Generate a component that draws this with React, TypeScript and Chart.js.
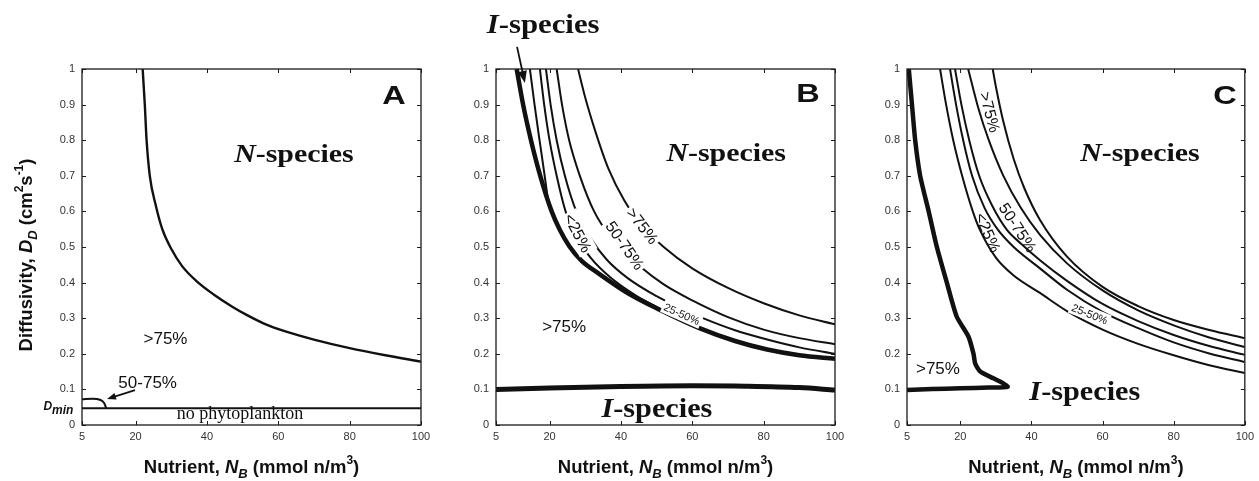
import React, { useEffect, useRef } from "react";
import { Chart, registerables } from "chart.js";

Chart.register(...registerables);

type P = [number, number];

// ---------- axis ticks ----------
const X_TICKS = [5, 20, 40, 60, 80, 100];
const X_TICK_LABELS = ["5", "20", "40", "60", "80", "100"];
const Y_TICKS = [0, 0.1, 0.2, 0.3, 0.4, 0.5, 0.6, 0.7, 0.8, 0.9, 1];
const Y_TICK_LABELS = ["0", "0.1", "0.2", "0.3", "0.4", "0.5", "0.6", "0.7", "0.8", "0.9", "1"];

// ---------- panel A ----------
const A_BOUNDARY: P[] = [[22, 1], [22.3, 0.95], [22.6, 0.9], [23.1, 0.8], [24, 0.7], [25.6, 0.62], [27.5, 0.55], [30, 0.495], [33, 0.447], [37, 0.405], [42, 0.366], [47, 0.333], [51, 0.31], [56, 0.285], [62, 0.263], [70, 0.24], [80, 0.216], [90, 0.196], [100, 0.178]];
const A_DMIN: P[] = [[5, 0.047], [100, 0.047]];
const A_50_75: P[] = [[5, 0.072], [8, 0.074], [10, 0.071], [11.2, 0.062], [11.8, 0.047]];

// ---------- panel B ----------
const B_I_UPPER: P[] = [[10.8, 1], [12.6, 0.9], [14.8, 0.8], [17.4, 0.7], [20.6, 0.6], [22.8, 0.55], [25.5, 0.503], [29, 0.461], [34, 0.424], [42, 0.37], [51, 0.323], [62, 0.272], [72, 0.236], [81, 0.212], [90, 0.196], [100, 0.186]];
const B_I_LOWER: P[] = [[5, 0.1], [20, 0.104], [40, 0.108], [60, 0.11], [75, 0.109], [90, 0.105], [100, 0.098]];
const B_C5: P[] = [[14.5, 1], [15.8, 0.9], [17.2, 0.8], [18.5, 0.71], [19.6, 0.63]];
const B_C4: P[] = [[17.3, 1], [18.5, 0.9], [20, 0.8], [22, 0.7], [24.5, 0.6], [27.5, 0.53], [31.5, 0.47], [37, 0.415], [44, 0.365], [51, 0.326]];
const B_C3: P[] = [[19, 1], [20.3, 0.9], [22, 0.8], [24.3, 0.7], [27.5, 0.6], [31.5, 0.525], [36, 0.465], [42, 0.412], [50, 0.362], [57, 0.327], [63, 0.3], [72, 0.266], [81, 0.24], [90, 0.218], [100, 0.2]];
const B_C2: P[] = [[22, 1], [23.5, 0.9], [25.5, 0.8], [28.5, 0.7], [32.5, 0.6], [37, 0.53], [41, 0.49], [46, 0.44], [52, 0.395], [60, 0.35], [70, 0.303], [80, 0.268], [90, 0.244], [100, 0.227]];
const B_C1: P[] = [[28, 1], [30, 0.92], [33, 0.82], [36.5, 0.72], [41, 0.63], [46, 0.56], [52, 0.5], [60, 0.44], [70, 0.385], [80, 0.342], [90, 0.308], [100, 0.283]];

// ---------- panel C ----------
const C_I_BOUNDARY: P[] = [[5.5, 1], [6.4, 0.9], [7.3, 0.8], [8.7, 0.7], [11.1, 0.6], [13.4, 0.5], [16.2, 0.4], [19, 0.304], [22.3, 0.248], [23.7, 0.2], [24.2, 0.172], [25.6, 0.15], [29.3, 0.131], [32.1, 0.117], [33.3, 0.107], [28, 0.105], [20, 0.103], [12, 0.101], [5, 0.098]];
const C_C1: P[] = [[29.1, 1], [30, 0.95], [32, 0.856], [35, 0.747], [38, 0.665], [42.4, 0.576], [50, 0.473], [60, 0.388], [70, 0.334], [80, 0.295], [90, 0.267], [100, 0.244]];
const C_C2: P[] = [[22.2, 1], [25, 0.892], [28, 0.8], [32, 0.702], [37, 0.61], [42.4, 0.534], [50, 0.454], [60, 0.378], [70, 0.322], [80, 0.28], [90, 0.246], [100, 0.219]];
const C_C3: P[] = [[18.5, 1], [20.3, 0.9], [22.5, 0.8], [25.3, 0.7], [29, 0.615], [33.1, 0.548], [37, 0.51], [42.4, 0.463], [50, 0.405], [60, 0.34], [70, 0.292], [80, 0.253], [90, 0.222], [100, 0.197]];
const C_C4: P[] = [[17.1, 1], [18.8, 0.9], [20.8, 0.8], [23.3, 0.7], [26.8, 0.61], [30.6, 0.548], [35, 0.5], [42.4, 0.44], [50, 0.38], [60, 0.318], [70, 0.272], [80, 0.232], [90, 0.201], [100, 0.177]];
const C_C5: P[] = [[14.3, 1], [16, 0.9], [18, 0.8], [20.5, 0.7], [23.5, 0.6], [25.5, 0.548], [30, 0.47], [35, 0.42], [42.4, 0.371], [50, 0.32], [60, 0.268], [70, 0.228], [80, 0.196], [90, 0.168], [100, 0.146]];

// ---------- styling ----------
const SANS = '"Liberation Sans", Arial, Helvetica, sans-serif';
const SERIF = '"Liberation Serif", "Times New Roman", serif';
const INK = "#111";

interface Run { t: string; f: string; dy?: number }
interface Label { runs: Run[]; x: number; y: number; size: number; rot?: number; sx?: number; bg?: boolean; align?: "center" | "right" }
interface Line { pts: P[]; w: number; free?: boolean }
interface Arrow { from: P; to: P; head: number }
interface Panel { key: string; left: number; width: number; plot: [number, number, number, number]; lines: Line[]; labels: Label[]; arrows: Arrow[]; yTitle: boolean }

const sans = (s: number, st = "") => `${st} ${s}px ${SANS}`.trim();
const serif = (s: number, st = "") => `${st} ${s}px ${SERIF}`.trim();
const species = (letter: string, size: number): Run[] => [
  { t: letter, f: serif(size, "italic bold") },
  { t: "-species", f: serif(size, "bold") },
];

const TS = 18.5;
const X_TITLE: Run[] = [
  { t: "Nutrient, ", f: sans(TS, "bold") },
  { t: "N", f: sans(TS, "italic bold") },
  { t: "B", f: sans(13, "italic bold"), dy: 5 },
  { t: " (mmol n/m", f: sans(TS, "bold") },
  { t: "3", f: sans(12, "bold"), dy: -9 },
  { t: ")", f: sans(TS, "bold") },
];
const Y_TITLE: Run[] = [
  { t: "Diffusivity, ", f: sans(TS, "bold") },
  { t: "D", f: sans(TS, "italic bold") },
  { t: "D", f: sans(13, "italic bold"), dy: 5 },
  { t: " (cm", f: sans(TS, "bold") },
  { t: "2", f: sans(12, "bold"), dy: -9 },
  { t: "s", f: sans(TS, "bold") },
  { t: "-1", f: sans(12, "bold"), dy: -9 },
  { t: ")", f: sans(TS, "bold") },
];

const PANELS: Panel[] = [
  {
    key: "A", left: 0, width: 450, plot: [82, 69, 421, 425], yTitle: true,
    lines: [
      { pts: A_BOUNDARY, w: 2.4 },
      { pts: A_DMIN, w: 2.2 },
      { pts: A_50_75, w: 2 },
    ],
    labels: [
      { runs: [{ t: "A", f: sans(25, "bold") }], x: 92.4, y: 0.927, size: 25, sx: 1.3 },
      { runs: species("N", 26), x: 64.4, y: 0.764, size: 26, sx: 1.15 },
      { runs: [{ t: ">75%", f: sans(17) }], x: 28.4, y: 0.244, size: 17 },
      { runs: [{ t: "50-75%", f: sans(17) }], x: 23.4, y: 0.121, size: 17 },
      { runs: [{ t: "no phytoplankton", f: serif(18) }], x: 49.3, y: 0.034, size: 18 },
      { runs: [{ t: "D", f: sans(12, "italic bold") }, { t: "min", f: sans(12, "italic bold"), dy: 4 }], x: 2.6, y: 0.053, size: 12, align: "right" },
    ],
    arrows: [{ from: [19.85, 0.098], to: [12.0, 0.073], head: 9 }],
  },
  {
    key: "B", left: 450, width: 420, plot: [496, 69, 835, 425], yTitle: false,
    lines: [
      { pts: B_I_UPPER, w: 4.5 },
      { pts: B_I_LOWER, w: 5 },
      { pts: B_C5, w: 2 },
      { pts: B_C4, w: 2 },
      { pts: B_C3, w: 2 },
      { pts: B_C2, w: 2 },
      { pts: B_C1, w: 2 },
    ],
    labels: [
      { runs: [{ t: "B", f: sans(25, "bold") }], x: 92.4, y: 0.933, size: 25, sx: 1.3 },
      { runs: species("N", 26), x: 69.5, y: 0.767, size: 26, sx: 1.15 },
      { runs: [{ t: ">75%", f: sans(17) }], x: 24.1, y: 0.278, size: 17 },
      { runs: species("I", 27), x: 50.1, y: 0.051, size: 27, sx: 1.12 },
      { runs: species("I", 28), x: 18.2, y: 1.129, size: 28, sx: 1.1 },
      { runs: [{ t: "<25%", f: sans(16) }], x: 28, y: 0.54, size: 16, rot: 62, bg: true },
      { runs: [{ t: "50-75%", f: sans(16) }], x: 41.2, y: 0.505, size: 16, rot: 55, bg: true },
      { runs: [{ t: ">75%", f: sans(16) }], x: 46.1, y: 0.56, size: 16, rot: 52, bg: true },
      { runs: [{ t: "25-50%", f: sans(11) }], x: 57.1, y: 0.312, size: 11, rot: 24, bg: true },
    ],
    arrows: [{ from: [10.9, 1.062], to: [13.1, 0.961], head: 12 }],
  },
  {
    key: "C", left: 870, width: 389, plot: [907, 69, 1245, 425], yTitle: false,
    lines: [
      { pts: C_I_BOUNDARY, w: 4.5, free: true },
      { pts: C_C1, w: 2 },
      { pts: C_C2, w: 2 },
      { pts: C_C3, w: 2 },
      { pts: C_C4, w: 2 },
      { pts: C_C5, w: 2 },
    ],
    labels: [
      { runs: [{ t: "C", f: sans(25, "bold") }], x: 94.4, y: 0.927, size: 25, sx: 1.3 },
      { runs: species("N", 26), x: 70.5, y: 0.767, size: 26, sx: 1.15 },
      { runs: [{ t: ">75%", f: sans(17) }], x: 13.7, y: 0.16, size: 17 },
      { runs: species("I", 27), x: 55, y: 0.098, size: 27, sx: 1.12 },
      { runs: [{ t: ">75%", f: sans(16) }], x: 28.4, y: 0.879, size: 16, rot: 75 },
      { runs: [{ t: "50-75%", f: sans(16) }], x: 36.2, y: 0.555, size: 16, rot: 57 },
      { runs: [{ t: "<25%", f: sans(16) }], x: 27.8, y: 0.541, size: 16, rot: 66 },
      { runs: [{ t: "25-50%", f: sans(11) }], x: 56.4, y: 0.312, size: 11, rot: 22, bg: true },
    ],
    arrows: [],
  },
];

function drawRuns(ctx: CanvasRenderingContext2D, runs: Run[], cx: number, cy: number, size: number, opt: { rot?: number; sx?: number; bg?: boolean; align?: "center" | "right" } = {}) {
  ctx.save();
  ctx.translate(cx, cy);
  if (opt.rot) ctx.rotate((opt.rot * Math.PI) / 180);
  if (opt.sx) ctx.scale(opt.sx, 1);
  let total = 0;
  const widths = runs.map((r) => {
    ctx.font = r.f;
    const w = ctx.measureText(r.t).width;
    total += w;
    return w;
  });
  let x = opt.align === "right" ? -total : -total / 2;
  if (opt.bg) {
    ctx.fillStyle = "#fff";
    ctx.fillRect(x - 2, -size * 0.62, total + 4, size * 1.24);
  }
  ctx.fillStyle = INK;
  ctx.textBaseline = "alphabetic";
  ctx.textAlign = "left";
  runs.forEach((r, i) => {
    ctx.font = r.f;
    ctx.fillText(r.t, x, size * 0.36 + (r.dy || 0));
    x += widths[i];
  });
  ctx.restore();
}

function decorPlugin(panel: Panel) {
  return {
    id: "decor" + panel.key,
    afterDraw(chart: any) {
      const { ctx, chartArea: a, scales } = chart;
      const xs = scales.x;
      const ys = scales.y;
      ctx.save();
      // labels (drawn first so the frame stays on top)
      for (const l of panel.labels) {
        drawRuns(ctx, l.runs, xs.getPixelForValue(l.x), ys.getPixelForValue(l.y), l.size, { rot: l.rot, sx: l.sx, bg: l.bg, align: l.align });
      }
      // frame
      ctx.strokeStyle = "#1a1a1a";
      ctx.lineWidth = 1.3;
      ctx.strokeRect(a.left, a.top, a.right - a.left, a.bottom - a.top);
      // inner tick marks on all four sides
      ctx.lineWidth = 1;
      ctx.beginPath();
      for (const v of X_TICKS) {
        const px = Math.round(xs.getPixelForValue(v)) + 0.5;
        ctx.moveTo(px, a.bottom); ctx.lineTo(px, a.bottom - 4);
        ctx.moveTo(px, a.top); ctx.lineTo(px, a.top + 4);
      }
      for (const v of Y_TICKS) {
        const py = Math.round(ys.getPixelForValue(v)) + 0.5;
        ctx.moveTo(a.left, py); ctx.lineTo(a.left + 4, py);
        ctx.moveTo(a.right, py); ctx.lineTo(a.right - 4, py);
      }
      ctx.stroke();
      // arrows
      for (const ar of panel.arrows) {
        const x1 = xs.getPixelForValue(ar.from[0]);
        const y1 = ys.getPixelForValue(ar.from[1]);
        const x2 = xs.getPixelForValue(ar.to[0]);
        const y2 = ys.getPixelForValue(ar.to[1]);
        const ang = Math.atan2(y2 - y1, x2 - x1);
        const h = ar.head;
        ctx.strokeStyle = INK;
        ctx.fillStyle = INK;
        ctx.lineWidth = 1.8;
        ctx.beginPath();
        ctx.moveTo(x1, y1);
        ctx.lineTo(x2 - Math.cos(ang) * h * 0.8, y2 - Math.sin(ang) * h * 0.8);
        ctx.stroke();
        ctx.beginPath();
        ctx.moveTo(x2, y2);
        ctx.lineTo(x2 - Math.cos(ang) * h + Math.sin(ang) * h * 0.38, y2 - Math.sin(ang) * h - Math.cos(ang) * h * 0.38);
        ctx.lineTo(x2 - Math.cos(ang) * h - Math.sin(ang) * h * 0.38, y2 - Math.sin(ang) * h + Math.cos(ang) * h * 0.38);
        ctx.closePath();
        ctx.fill();
      }
      // axis titles
      drawRuns(ctx, X_TITLE, (a.left + a.right) / 2, 466, TS);
      if (panel.yTitle) drawRuns(ctx, Y_TITLE, 25, 255, TS, { rot: -90 });
      ctx.restore();
    },
  };
}

function PanelChart({ panel }: { panel: Panel }) {
  const ref = useRef<HTMLCanvasElement>(null);
  useEffect(() => {
    const canvas = ref.current;
    if (!canvas) return;
    const [x0, y0, x1, y1] = panel.plot;
    const tickFont = { family: SANS, size: 11 };
    const chart = new Chart(canvas, {
      type: "line",
      data: {
        datasets: panel.lines.map((l) => ({
          data: l.pts.map(([x, y]) => ({ x, y })),
          borderColor: INK,
          borderWidth: l.w,
          pointRadius: 0,
          tension: l.free ? 0.2 : 0.4,
          cubicInterpolationMode: l.free ? "default" : "monotone",
          fill: false,
          borderCapStyle: "butt" as const,
          borderJoinStyle: "round" as const,
        })),
      },
      options: {
        responsive: false,
        animation: false,
        devicePixelRatio: 1,
        events: [],
        layout: {
          autoPadding: false,
          padding: { left: 0, top: y0, right: panel.left + panel.width - x1, bottom: 0 },
        },
        plugins: { legend: { display: false }, tooltip: { enabled: false }, title: { display: false } },
        scales: {
          x: {
            type: "linear",
            min: 5,
            max: 100,
            afterBuildTicks: (s: any) => { s.ticks = X_TICKS.map((v) => ({ value: v })); },
            afterFit: (s: any) => { s.height = 481 - y1; },
            ticks: { font: tickFont, color: "#333", padding: 5, autoSkip: false, maxRotation: 0, callback: (_v: any, i: number) => X_TICK_LABELS[i] },
            grid: { display: false, drawTicks: false },
            border: { display: false },
          },
          y: {
            type: "linear",
            min: 0,
            max: 1,
            afterBuildTicks: (s: any) => { s.ticks = Y_TICKS.map((v) => ({ value: v })); },
            afterFit: (s: any) => { s.width = x0 - panel.left; },
            ticks: { font: tickFont, color: "#333", padding: 7, autoSkip: false, callback: (_v: any, i: number) => Y_TICK_LABELS[i] },
            grid: { display: false, drawTicks: false },
            border: { display: false },
          },
        },
      },
      plugins: [decorPlugin(panel)],
    } as any);
    return () => chart.destroy();
  }, [panel]);
  return (
    <canvas
      ref={ref}
      width={panel.width}
      height={481}
      style={{ position: "absolute", left: panel.left, top: 0, width: panel.width, height: 481 }}
    />
  );
}

export default function App() {
  useEffect(() => {
    document.body.style.margin = "0";
    document.body.style.background = "#fff";
  }, []);
  return (
    <div style={{ position: "relative", width: 1259, height: 481, background: "#fff", overflow: "hidden" }}>
      {PANELS.map((p) => (
        <PanelChart key={p.key} panel={p} />
      ))}
    </div>
  );
}
